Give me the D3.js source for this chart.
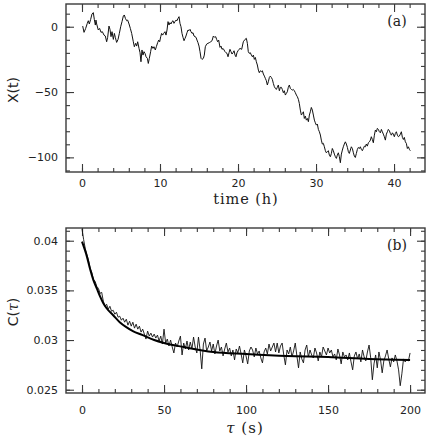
<!DOCTYPE html>
<html><head><meta charset="utf-8">
<script src="https://cdn.jsdelivr.net/npm/d3@7"></script>
<style>body{margin:0;background:#fff}svg{display:block}</style>
</head><body>
<svg id="c" width="432" height="440"></svg>
<script>
// ---------- data: panel (a) ----------
const timeH = [0.09,0.26,0.47,0.68,0.81,0.94,1.11,1.28,1.45,1.58,
1.71,1.79,1.88,2.09,2.26,2.44,2.61,2.82,2.99,3.16,
3.29,3.46,3.59,3.72,3.85,4.02,4.15,4.27,4.44,4.62,
4.79,4.96,5.13,5.30,5.43,5.56,5.73,5.85,6.03,6.20,
6.37,6.58,6.71,6.88,7.01,7.14,7.31,7.44,7.56,7.69,
7.82,7.95,8.08,8.21,8.38,8.50,8.63,8.80,8.93,9.10,
9.23,9.40,9.53,9.70,9.83,9.96,10.09,10.21,10.34,10.47,
10.64,10.77,10.90,11.03,11.15,11.28,11.41,11.54,11.67,11.79,
11.92,12.05,12.18,12.31,12.44,12.56,12.69,12.82,12.95,13.08,
13.21,13.33,13.46,13.59,13.72,13.85,13.97,14.10,14.23,14.36,
14.49,14.62,14.74,14.87,15.00,15.13,15.26,15.38,15.56,15.68,
15.81,15.98,16.15,16.32,16.50,16.67,16.84,17.01,17.14,17.26,
17.39,17.52,17.69,17.82,17.95,18.08,18.21,18.33,18.46,18.59,
18.72,18.85,18.97,19.10,19.23,19.36,19.49,19.62,19.74,19.87,
20.00,20.13,20.26,
20.47,20.68,20.90,21.07,21.20,21.32,21.45,21.58,21.71,21.84,
21.97,22.09,22.22,22.35,22.48,22.61,22.73,22.86,22.99,23.12,
23.25,23.38,23.50,23.63,23.76,23.89,24.02,24.14,24.27,24.40,
24.53,24.66,24.79,24.91,25.04,25.17,25.30,25.43,25.56,25.68,
25.81,25.94,26.07,26.20,26.32,26.45,26.58,26.71,26.84,26.97,
27.09,27.22,27.35,27.48,27.61,27.74,27.86,27.99,28.12,28.25,
28.38,28.50,28.63,28.76,28.89,29.02,29.15,29.27,29.40,29.53,
29.66,29.79,29.91,30.04,30.17,30.30,30.43,30.56,30.68,30.81,
30.94,31.07,31.20,31.32,31.45,31.58,31.71,31.84,31.97,32.09,
32.22,32.35,32.48,32.61,32.73,32.86,32.99,33.12,33.25,33.38,
33.50,33.63,33.76,33.89,34.02,34.15,34.27,34.40,34.53,34.66,
34.79,34.91,35.04,35.17,35.30,35.43,35.56,35.68,35.81,35.94,
36.07,36.20,36.32,36.45,36.58,36.71,36.84,36.97,37.09,37.22,
37.35,37.48,37.61,37.74,37.86,37.99,38.12,38.25,38.38,38.50,
38.63,38.76,38.89,39.02,39.15,39.27,39.40,39.53,39.66,39.79,
39.91,40.04,40.17,40.30,40.43,40.56,40.68,40.81,40.94,41.07,
41.20,41.32,41.45,41.58,41.71,41.84,41.97,42.09];
const posX = [0.5,-4.3,-1.3,2.6,4.6,2.1,5.6,9.7,10.8,5.6,
1.3,5.1,2.1,-2.5,-1.3,-4.3,-3.8,-6.4,-7.1,-11.5,
-8.1,0.5,-2.0,-7.6,-3.8,-9.7,-5.1,-8.1,-12.0,-9.7,
-5.1,0.0,3.9,8.2,9.0,6.4,4.6,5.1,2.1,-1.3,
-5.1,-11.5,-15.3,-12.7,-14.8,-11.5,-16.6,-19.9,-26.8,-17.8,
-21.7,-19.1,-20.4,-23.0,-24.2,-28.1,-24.2,-19.1,-14.8,-16.6,
-15.3,-17.8,-15.3,-12.2,-10.2,-11.5,-7.6,-5.1,-6.4,-5.1,
-3.8,-6.4,-2.5,3.9,1.3,3.1,2.1,3.9,4.6,2.6,
3.9,5.1,4.6,6.4,7.7,2.6,0.0,-5.1,-8.1,-10.7,
-8.9,-7.1,-4.6,-2.5,-3.0,-2.0,-3.8,-5.1,-4.6,-7.1,
-7.6,-8.1,-10.2,-12.2,-14.8,-19.1,-24.2,-25.0,-24.2,-21.7,
-15.3,-13.3,-12.7,-12.2,-11.5,-10.7,-7.1,-8.1,-7.6,-9.7,
-11.5,-10.2,-15.8,-14.8,-17.3,-16.6,-17.8,-19.1,-19.9,-20.4,
-23.0,-19.9,-17.3,-19.1,-20.9,-19.9,-18.4,-21.7,-23.0,-19.9,
-18.4,-17.3,-16.6,
-17.3,-11.5,-9.7,-8.9,-12.7,-19.1,-20.4,-19.9,-21.7,-23.0,
-21.7,-25.0,-23.5,-26.8,-29.3,-33.2,-35.2,-33.7,-34.4,-33.7,
-36.2,-37.8,-39.5,-41.3,-44.6,-42.1,-38.8,-37.8,-38.8,-40.3,
-43.4,-45.9,-47.2,-48.0,-46.4,-44.6,-49.0,-46.4,-46.4,-48.0,
-50.5,-49.0,-52.3,-51.0,-49.8,-46.4,-44.6,-47.2,-48.0,-48.5,
-48.0,-49.0,-50.5,-52.3,-53.6,-55.6,-58.7,-63.8,-67.6,-66.4,
-65.1,-70.2,-68.4,-71.5,-70.2,-72.7,-67.6,-65.1,-61.8,-63.8,
-67.6,-71.5,-73.5,-75.3,-74.5,-78.6,-80.4,-82.9,-86.8,-89.8,
-89.3,-91.9,-94.9,-96.5,-95.7,-94.9,-98.3,-99.5,-97.0,-93.2,
-94.9,-97.5,-99.5,-100.8,-98.3,-96.5,-99.5,-104.1,-97.5,-94.4,
-91.9,-89.8,-88.1,-89.8,-92.4,-95.7,-97.0,-94.4,-91.9,-93.2,
-96.5,-99.0,-100.1,-97.0,-93.9,-92.4,-93.2,-91.9,-93.9,-94.9,
-93.2,-91.4,-91.9,-89.8,-91.4,-88.8,-88.1,-86.8,-84.2,-86.3,
-88.8,-83.0,-79.1,-80.4,-77.8,-78.6,-80.4,-81.2,-78.6,-80.4,
-82.2,-84.2,-86.8,-82.2,-80.4,-78.6,-79.6,-81.7,-83.0,-81.2,
-82.2,-84.2,-81.7,-80.4,-83.0,-84.2,-83.7,-82.2,-80.4,-84.7,
-86.3,-84.7,-88.1,-89.3,-93.2,-91.9,-93.9,-94.9];

// ---------- data: panel (b) ----------
const tauS = [0,1,2,3,4,5,6,7,8,9,10,11,12,13,14,15,16,17,18,19,
20,21,22,23,24,25,26,27,28,29,30,31,32,33,34,35,36,37,38,39,
40,41,42,43,44,45,46,47,48,49,50,51,52,53,54,55,56,57,58,59,
60,61,62,63,64,65,66,67,68,69,70,71,72,73,74,75,76,77,78,79,
80,81,82,83,84,85,86,87,88,89,90,91,92,93,94,95,96,97,98,99,
100,101,102,103,104,105,106,107,108,109,110,111,112,113,114,115,116,117,118,119,
120,121,122,123,124,125,126,127,128,129,130,131,132,133,134,135,136,137,138,139,
140,141,142,143,144,145,146,147,148,149,150,151,152,153,154,155,156,157,158,159,
160,161,162,163,164,165,166,167,168,169,170,171,172,173,174,175,176,177,178,179,
180,181,182,183,184,185,186,187,188,189,190,191,192,193,194,195,196,197,198,199,200];
const corrC = [0.0412,0.0401,0.0392,0.0386,0.0380,0.0372,0.0368,0.0361,0.0359,0.0354,
0.0352,0.0347,0.0348,0.0339,0.0334,0.0336,0.0331,0.0334,0.0329,0.0330,
0.0326,0.0328,0.0323,0.0324,0.0320,0.0322,0.0318,0.0321,0.0315,0.0319,
0.0314,0.0318,0.0312,0.0316,0.0311,0.0314,0.0308,0.0311,0.0306,0.0301,
0.0309,0.0304,0.0307,0.0303,0.0306,0.0302,0.0305,0.0299,0.0304,0.0296,
0.0311,0.0297,0.0301,0.0294,0.0300,0.0293,0.0287,0.0297,0.0293,0.0299,
0.0304,0.0285,0.0297,0.0291,0.0299,0.0290,0.0298,0.0291,0.0303,0.0293,
0.0287,0.0303,0.0290,0.0271,0.0296,0.0302,0.0289,0.0293,0.0298,0.0289,
0.0296,0.0286,0.0294,0.0300,0.0289,0.0293,0.0284,0.0291,0.0297,0.0288,
0.0292,0.0284,0.0290,0.0280,0.0291,0.0287,0.0294,0.0286,0.0277,0.0290,
0.0284,0.0276,0.0289,0.0293,0.0290,0.0283,0.0292,0.0286,0.0289,0.0282,
0.0277,0.0288,0.0292,0.0286,0.0296,0.0289,0.0293,0.0297,0.0288,0.0297,
0.0287,0.0294,0.0297,0.0285,0.0275,0.0290,0.0286,0.0293,0.0283,0.0289,
0.0297,0.0284,0.0272,0.0288,0.0281,0.0277,0.0290,0.0295,0.0283,0.0290,
0.0285,0.0282,0.0292,0.0287,0.0279,0.0288,0.0283,0.0293,0.0289,0.0285,
0.0292,0.0287,0.0290,0.0283,0.0286,0.0280,0.0291,0.0285,0.0276,0.0288,
0.0283,0.0285,0.0280,0.0287,0.0278,0.0270,0.0284,0.0288,0.0281,0.0286,
0.0278,0.0290,0.0283,0.0279,0.0288,0.0295,0.0282,0.0260,0.0276,0.0285,
0.0272,0.0288,0.0280,0.0267,0.0279,0.0284,0.0290,0.0281,0.0273,0.0282,
0.0278,0.0285,0.0279,0.0270,0.0254,0.0266,0.0281,0.0278,0.0280,0.0279,0.0287];
const fitTau = [0,3,5,7,9,11,13,15,19,23,27,31,37,44,50,62,80,100,125,150,175,200];
const fitC   = [0.0399,0.0384,0.0371,0.0360,0.0352,0.0344,0.0337,0.0332,0.0325,0.0318,0.0313,0.0309,0.0305,0.0300,0.0297,0.0293,0.0288,0.0286,0.0284,0.0283,0.0281,0.0280];

// ---------- ticks ----------
const aXMajor = [0,10,20,30,40];
const aXMinor = [0,2,4,6,8,10,12,14,16,18,20,22,24,26,28,30,32,34,36,38,40,42];
const aYMajor = [0,-50,-100];
const aYMinor = [10,0,-10,-20,-30,-40,-50,-60,-70,-80,-90,-100,-110];
const bXMajor = [0,50,100,150,200];
const bXMinor = [0,10,20,30,40,50,60,70,80,90,100,110,120,130,140,150,160,170,180,190,200];
const bYMajor = [0.025,0.03,0.035,0.04];
const bYLabels = ["0.025","0.03","0.035","0.04"];
const bYMinor = [0.025,0.026,0.027,0.028,0.029,0.030,0.031,0.032,0.033,0.034,0.035,0.036,0.037,0.038,0.039,0.040,0.041];

const svg = d3.select("#c");
const L = 66, R = 425;
const frameCol = "#3a3a3a";
const sans = "DejaVu Sans, sans-serif";
const serif = "DejaVu Serif, serif";

function panel(cfg){
  const g = svg.append("g");
  const x = d3.scaleLinear().domain(cfg.xd).range([L,R]);
  const y = d3.scaleLinear().domain(cfg.yd).range([cfg.bot,cfg.top]);
  const id = "clip"+cfg.name;
  svg.append("clipPath").attr("id",id).append("rect")
    .attr("x",L).attr("y",cfg.top).attr("width",R-L).attr("height",cfg.bot-cfg.top);
  const styleAxis = (sel)=>{
    sel.select(".domain").remove();
    sel.selectAll("line").attr("stroke",frameCol).attr("stroke-width",1.1);
    sel.selectAll("text").attr("fill","#222").style("font-family",sans).style("font-size","11px");
  };
  g.append("g").attr("transform",`translate(0,${cfg.bot})`)
    .call(d3.axisBottom(x).tickValues(cfg.xMinor).tickSize(-4).tickFormat("")).call(styleAxis);
  g.append("g").attr("transform",`translate(0,${cfg.bot})`)
    .call(d3.axisBottom(x).tickValues(cfg.xMajor).tickSize(-8).tickPadding(cfg.xPad).tickFormat(d3.format("d"))).call(styleAxis);
  g.append("g").attr("transform",`translate(0,${cfg.top})`)
    .call(d3.axisTop(x).tickValues(cfg.xMinor).tickSize(-4).tickFormat("")).call(styleAxis);
  g.append("g").attr("transform",`translate(0,${cfg.top})`)
    .call(d3.axisTop(x).tickValues(cfg.xMajor).tickSize(-8).tickFormat("")).call(styleAxis);
  g.append("g").attr("transform",`translate(${L},0)`)
    .call(d3.axisLeft(y).tickValues(cfg.yMinor).tickSize(-4).tickFormat("")).call(styleAxis);
  g.append("g").attr("transform",`translate(${L},0)`)
    .call(d3.axisLeft(y).tickValues(cfg.yMajor).tickSize(-8).tickPadding(8).tickFormat((d,i)=>cfg.yLab(d,i))).call(styleAxis);
  g.append("g").attr("transform",`translate(${R},0)`)
    .call(d3.axisRight(y).tickValues(cfg.yMinor).tickSize(-4).tickFormat("")).call(styleAxis);
  g.append("g").attr("transform",`translate(${R},0)`)
    .call(d3.axisRight(y).tickValues(cfg.yMajor).tickSize(-8).tickFormat("")).call(styleAxis);
  g.append("rect").attr("x",L).attr("y",cfg.top).attr("width",R-L).attr("height",cfg.bot-cfg.top)
    .attr("fill","none").attr("stroke",frameCol).attr("stroke-width",1.4);
  return {g,x,y,id};
}

// panel (a)
const pa = panel({name:"a", xd:[-2.05,43.97], yd:[-111.2,17.4], top:4, bot:172,
  xMajor:aXMajor, xMinor:aXMinor, yMajor:aYMajor, yMinor:aYMinor, xPad:7,
  yLab:(d)=>d3.format("d")(d)});
pa.g.append("path").datum(d3.zip(timeH,posX))
  .attr("clip-path",`url(#${pa.id})`)
  .attr("fill","none").attr("stroke","#111").attr("stroke-width",1).attr("stroke-linejoin","round")
  .attr("d",d3.line().x(d=>pa.x(d[0])).y(d=>pa.y(d[1])));

// panel (b)
const pb = panel({name:"b", xd:[-9.76,209.1], yd:[0.02467,0.04128], top:228, bot:393,
  xMajor:bXMajor, xMinor:bXMinor, yMajor:bYMajor, yMinor:bYMinor, xPad:13,
  yLab:(d,i)=>bYLabels[i]});
pb.g.append("path").datum(d3.zip(tauS,corrC))
  .attr("clip-path",`url(#${pb.id})`)
  .attr("fill","none").attr("stroke","#111").attr("stroke-width",0.9).attr("stroke-linejoin","round")
  .attr("d",d3.line().x(d=>pb.x(d[0])).y(d=>pb.y(d[1])));
pb.g.append("path").datum(d3.zip(fitTau,fitC))
  .attr("clip-path",`url(#${pb.id})`)
  .attr("fill","none").attr("stroke","#000").attr("stroke-width",2)
  .attr("d",d3.line().curve(d3.curveMonotoneX).x(d=>pb.x(d[0])).y(d=>pb.y(d[1])));

// labels
svg.append("text").attr("x",397).attr("y",26).attr("text-anchor","middle")
  .style("font-family",serif).style("font-size","14px").attr("fill","#222").text("(a)");
svg.append("text").attr("x",397).attr("y",250).attr("text-anchor","middle")
  .style("font-family",serif).style("font-size","14px").attr("fill","#222").text("(b)");
svg.append("text").attr("x",246).attr("y",203.5).attr("text-anchor","middle")
  .style("font-family",serif).style("font-size","14.5px").style("letter-spacing","0.9px")
  .attr("fill","#222").text("time (h)");
const tl = svg.append("text").attr("x",245).attr("y",433).attr("text-anchor","middle")
  .style("font-family",serif).style("font-size","15px").style("letter-spacing","1px").attr("fill","#222");
tl.append("tspan").style("font-style","italic").text("τ");
tl.append("tspan").text(" (s)");
svg.append("text").attr("transform","translate(18,90) rotate(-90)").attr("text-anchor","middle")
  .style("font-family",sans).style("font-size","14px").attr("fill","#222").text("X(t)");
const cl = svg.append("text").attr("transform","translate(18,312) rotate(-90)").attr("text-anchor","middle")
  .style("font-family",sans).style("font-size","14px").attr("fill","#222");
cl.append("tspan").text("C(");
cl.append("tspan").style("font-family",serif).style("font-style","italic").text("τ");
cl.append("tspan").text(")");
</script>
</body></html>
